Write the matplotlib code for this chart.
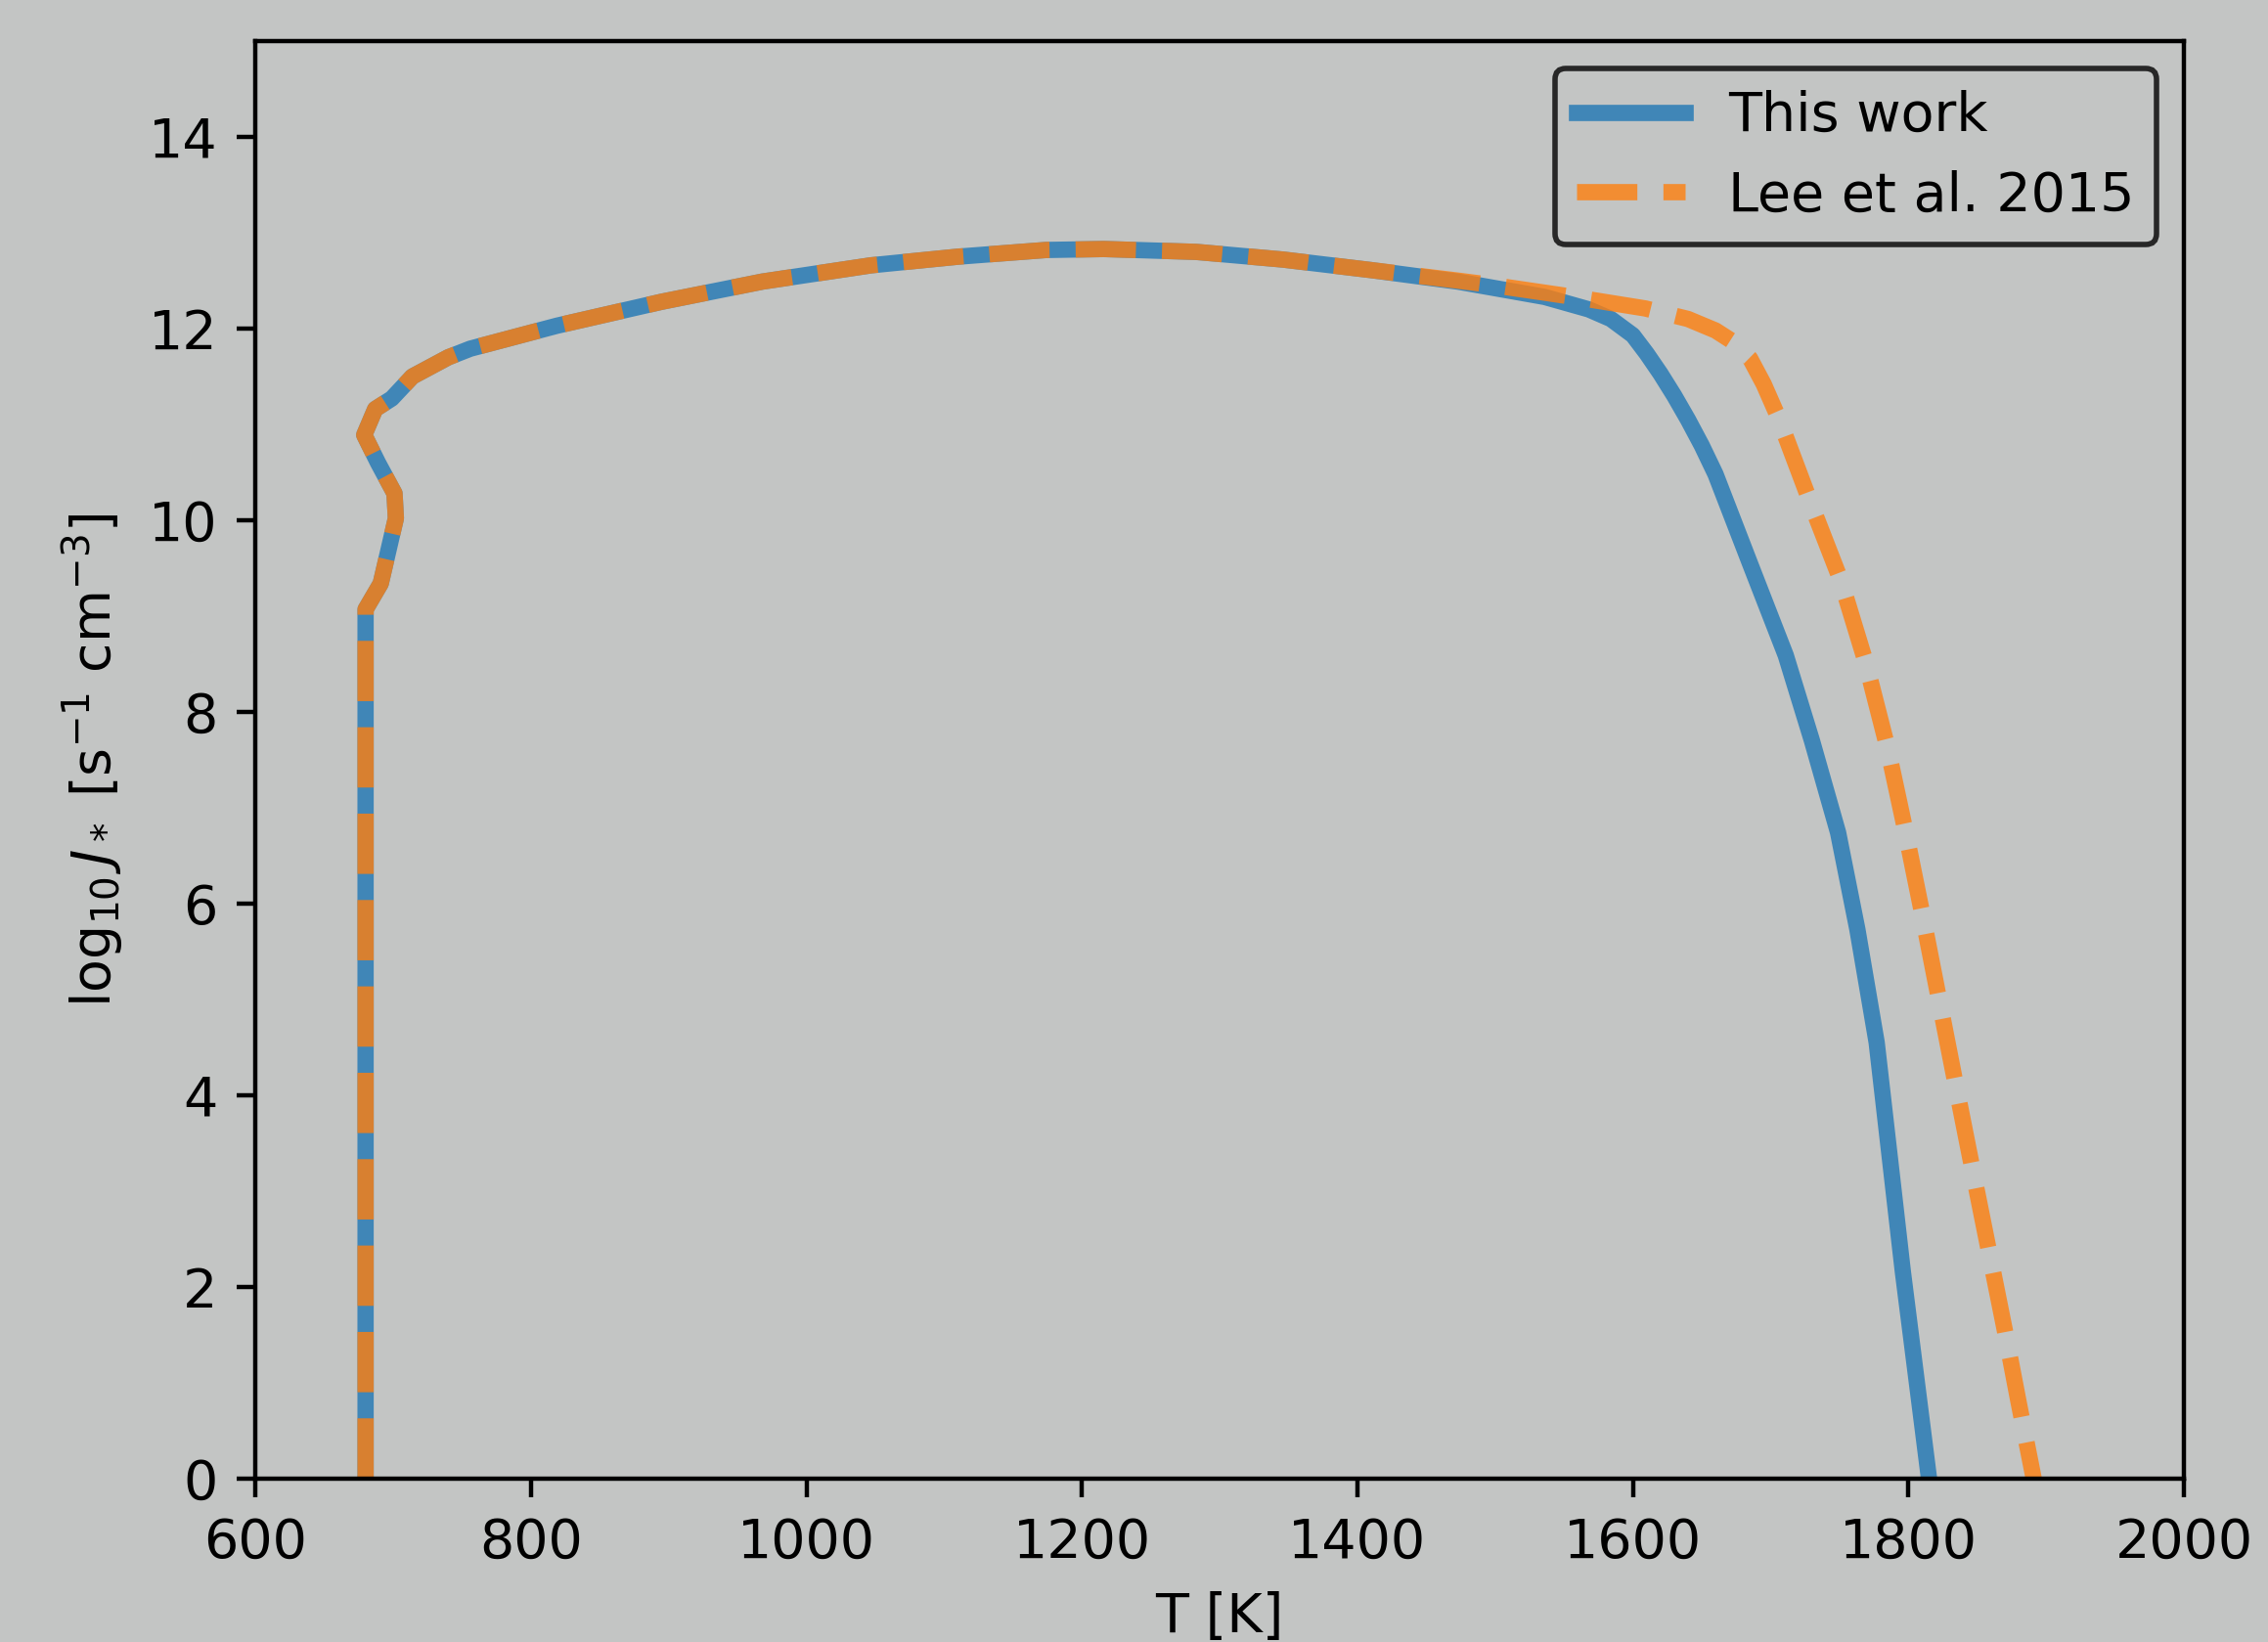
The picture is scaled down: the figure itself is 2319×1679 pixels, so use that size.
import matplotlib
matplotlib.use("Agg")
import matplotlib.pyplot as plt

# ---- data ----
T_this = [680, 680, 691, 702, 701, 689, 679, 687, 699, 714, 740, 756, 819, 895,
          968, 1047, 1110, 1174, 1216, 1283, 1346, 1410, 1473, 1536, 1568, 1584,
          1600, 1610, 1620, 1630, 1640, 1650, 1660, 1685, 1711, 1730, 1749,
          1763, 1777, 1796, 1815]
J_this = [0.0, 9.07, 9.34, 10.02, 10.28, 10.60, 10.89, 11.16, 11.27, 11.50, 11.70,
          11.79, 12.03, 12.28, 12.49, 12.66, 12.75, 12.82, 12.83, 12.80, 12.72,
          12.61, 12.49, 12.33, 12.20, 12.10, 11.93, 11.74, 11.53, 11.30, 11.05,
          10.78, 10.48, 9.55, 8.59, 7.70, 6.74, 5.73, 4.55, 2.16, 0.0]

T_lee = [680, 680, 691, 702, 701, 689, 679, 687, 699, 714, 740, 756, 819, 895,
         968, 1047, 1110, 1174, 1216, 1283, 1346, 1410, 1473, 1500, 1557, 1609,
         1640, 1660, 1673, 1685, 1695, 1706, 1728, 1751, 1769, 1785, 1798, 1810,
         1822, 1834, 1846, 1858, 1870, 1880, 1891]
J_lee = [0.0, 9.07, 9.34, 10.02, 10.28, 10.60, 10.89, 11.16, 11.27, 11.50, 11.70,
         11.79, 12.03, 12.28, 12.49, 12.66, 12.75, 12.82, 12.83, 12.80, 12.72,
         12.61, 12.50, 12.45, 12.33, 12.21, 12.10, 11.98, 11.86, 11.69, 11.42,
         11.06, 10.22, 9.37, 8.52, 7.62, 6.75, 5.90, 5.02, 4.14, 3.27, 2.41,
         1.55, 0.80, 0.0]

labels = ["This work", "Lee et al. 2015"]
xticks = [600, 800, 1000, 1200, 1400, 1600, 1800, 2000]
yticks = [0, 2, 4, 6, 8, 10, 12, 14]

# ---- style ----
BG = "#c3c5c4"
DPI = 400
fig = plt.figure(figsize=(2319 / DPI, 1679 / DPI), dpi=DPI, facecolor=BG)
ax = fig.add_axes([0.1126, 0.0995, 0.9629 - 0.1126, 0.9750 - 0.0995])
ax.set_facecolor(BG)

lw = 3
ax.plot(T_this, J_this, color="tab:blue", alpha=0.8, lw=lw, label=labels[0])
ax.plot(T_lee, J_lee, color="tab:orange", alpha=0.8, lw=lw, ls="--", label=labels[1])

ax.set_xlim(600, 2000)
ax.set_ylim(0, 15)
ax.set_xticks(xticks)
ax.set_yticks(yticks)
ax.set_xlabel("T [K]")
ax.set_ylabel(r"$\log_{10} J_*$ [s$^{-1}$ cm$^{-3}$]")

leg = ax.legend(loc="upper right", facecolor=BG, edgecolor="black", framealpha=0.8)

fig.savefig("out.png", dpi=DPI, facecolor=BG)
